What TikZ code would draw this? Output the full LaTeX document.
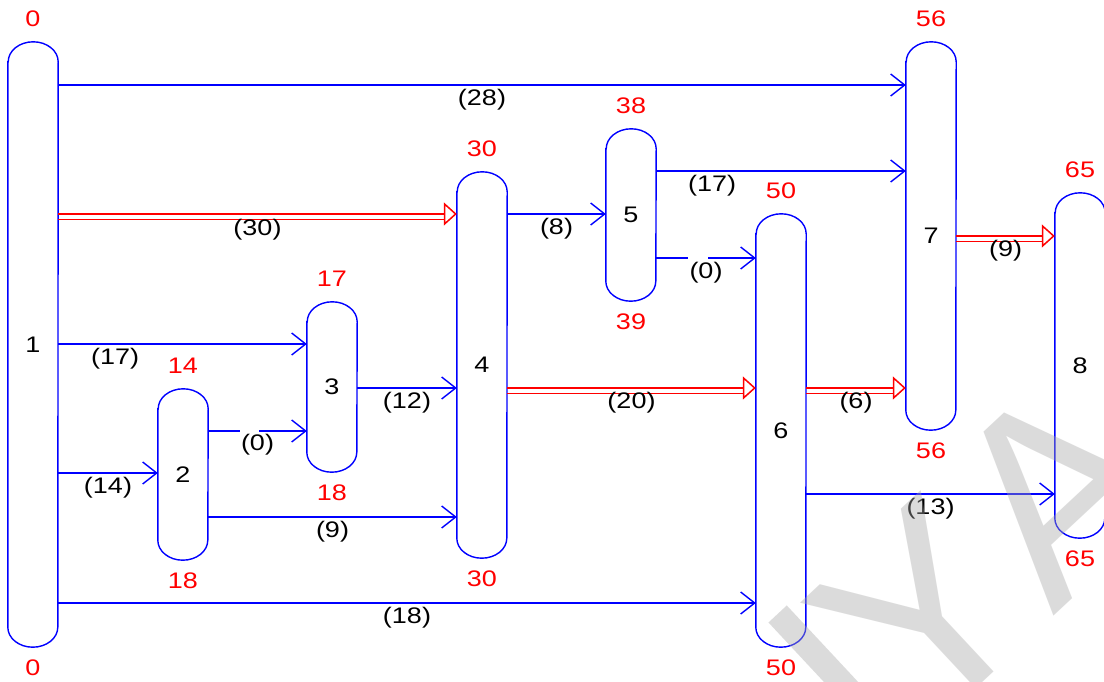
\documentclass[tikz,border=0pt]{standalone}
\usepackage{fontspec}
\setmainfont{Liberation Sans}[FakeStretch=1.2]
\newfontfamily\markfont{Liberation Sans}
\usetikzlibrary{arrows.meta,calc}

\definecolor{flowblue}{RGB}{0,0,255}
\definecolor{flowred}{RGB}{255,0,0}
\definecolor{wmgray}{RGB}{167,167,167}

\tikzset{
  stage/.style={rectangle, draw=none, inner sep=0pt, minimum width=50pt, text=black},
  stageline/.style={draw=flowblue, line width=1.4pt},
  val/.style={text=flowred, inner sep=0pt},
  flow/.style={draw=flowblue, line width=1.4pt, -{Straight Barb[length=14pt, width=22pt]}},
  redflow/.style={draw=flowred, line width=1.5pt,
    -{Triangle[open, length=13pt, width=23pt, fill=white]}},
  redtwin/.style={draw=flowred, line width=1.5pt, shorten >=13pt},
  elabel/.style={midway, yshift=-15pt, text=black, inner sep=0pt},
  watermark/.style={text=wmgray, text opacity=0.4, inner sep=0pt,
    font=\markfont\fontsize{265}{265}\selectfont}
}

\begin{document}
\begin{tikzpicture}[x=1pt, y=-1pt, font=\fontsize{22.5}{26}\selectfont]
\useasboundingbox (0,0) rectangle (1104,682);
\clip (0,0) rectangle (1104,682);
\fill[white] (0,0) rectangle (1104,682);

% stages: centre and height
\node[stage, minimum height=605pt] (n1) at (33,344.5) {1};
\node[stage, minimum height=171pt] (n2) at (183,474.5) {2};
\node[stage, minimum height=170pt] (n3) at (332,387) {3};
\node[stage, minimum height=386pt] (n4) at (482,365) {4};
\node[stage, minimum height=172pt] (n5) at (631,215) {5};
\node[stage, minimum height=433pt] (n6) at (781,430.5) {6};
\node[stage, minimum height=388pt] (n7) at (931,236) {7};
\node[stage, minimum height=345pt] (n8) at (1080,365.5) {8};

% capsule outlines
\foreach \n in {n1,n2,n3,n4,n5,n6,n7,n8}
  \draw[stageline] ([yshift=-20pt]\n.north west) -- ([yshift=20pt]\n.south west)
    arc[start angle=180, end angle=360, x radius=25pt, y radius=20pt]
    -- ([yshift=-20pt]\n.north east)
    arc[start angle=0, end angle=180, x radius=25pt, y radius=20pt] -- cycle;

% earliest / latest times
\node[val] (t1) at ([yshift=23pt]n1.north) {0};
\node[val] (b1) at ([yshift=-21pt]n1.south) {0};
\node[val] (t2) at ([yshift=23pt]n2.north) {14};
\node[val] (b2) at ([yshift=-21pt]n2.south) {18};
\node[val] (t3) at ([yshift=23pt]n3.north) {17};
\node[val] (b3) at ([yshift=-21pt]n3.south) {18};
\node[val] (t4) at ([yshift=23pt]n4.north) {30};
\node[val] (b4) at ([yshift=-21pt]n4.south) {30};
\node[val] (t5) at ([yshift=23pt]n5.north) {38};
\node[val] (b5) at ([yshift=-21pt]n5.south) {39};
\node[val] (t6) at ([yshift=23pt]n6.north) {50};
\node[val] (b6) at ([yshift=-21pt]n6.south) {50};
\node[val] (t7) at ([yshift=23pt]n7.north) {56};
\node[val] (b7) at ([yshift=-21pt]n7.south) {56};
\node[val] (t8) at ([yshift=23pt]n8.north) {65};
\node[val] (b8) at ([yshift=-21pt]n8.south) {65};

% activities
\draw[flow] (n1.east |- 0,85) -- (n7.west |- 0,85) node[elabel] {(28)};
\draw[flow] (n1.east |- 0,344) -- (n3.west |- 0,344) node[elabel, pos=0.229] {(17)};
\draw[flow] (n1.east |- 0,473) -- (n2.west |- 0,473) node[elabel] {(14)};
\draw[flow] (n1.east |- 0,603) -- (n6.west |- 0,603) node[elabel] {(18)};
\draw[flow, dash pattern=on 32pt off 19pt on 300pt] (n2.east |- 0,431) -- (n3.west |- 0,431) node[elabel, yshift=1pt] {(0)};
\draw[flow] (n2.east |- 0,517) -- (n4.west |- 0,517) node[elabel] {(9)};
\draw[flow] (n3.east |- 0,388) -- (n4.west |- 0,388) node[elabel] {(12)};
\draw[flow] (n4.east |- 0,214) -- (n5.west |- 0,214) node[elabel] {(8)};
\draw[flow] (n5.east |- 0,171) -- (n7.west |- 0,171) node[elabel, pos=0.224] {(17)};
\draw[flow, dash pattern=on 32pt off 20pt on 300pt] (n5.east |- 0,258) -- (n6.west |- 0,258) node[elabel] {(0)};
\draw[flow] (n6.east |- 0,494) -- (n8.west |- 0,494) node[elabel] {(13)};

% critical activities: twin line below, main line with open head on top
\draw[redtwin] ($(n1.east |- 0,214)+(0,5.5)$) -- ($(n4.west |- 0,214)+(0,5.5)$);
\draw[redflow] (n1.east |- 0,214) -- (n4.west |- 0,214) node[elabel, yshift=-1pt] {(30)};
\draw[redtwin] ($(n4.east |- 0,388)+(0,5.5)$) -- ($(n6.west |- 0,388)+(0,5.5)$);
\draw[redflow] (n4.east |- 0,388) -- (n6.west |- 0,388) node[elabel] {(20)};
\draw[redtwin] ($(n6.east |- 0,388)+(0,5.5)$) -- ($(n7.west |- 0,388)+(0,5.5)$);
\draw[redflow] (n6.east |- 0,388) -- (n7.west |- 0,388) node[elabel] {(6)};
\draw[redtwin] ($(n7.east |- 0,236)+(0,5.5)$) -- ($(n8.west |- 0,236)+(0,5.5)$);
\draw[redflow] (n7.east |- 0,236) -- (n8.west |- 0,236) node[elabel] {(9)};

% watermark lettering
\begin{scope}[shift={(920,741)}, rotate=43]
  \fill[wmgray, fill opacity=0.4] (-30pt,0pt) rectangle (-5pt,190pt);
\end{scope}
\node[watermark, anchor=base west, rotate=43] (wmy) at (920,741) {Y};
\node[watermark, anchor=base west, rotate=43] (wma) at (1053,617) {A};
\end{tikzpicture}
\end{document}
